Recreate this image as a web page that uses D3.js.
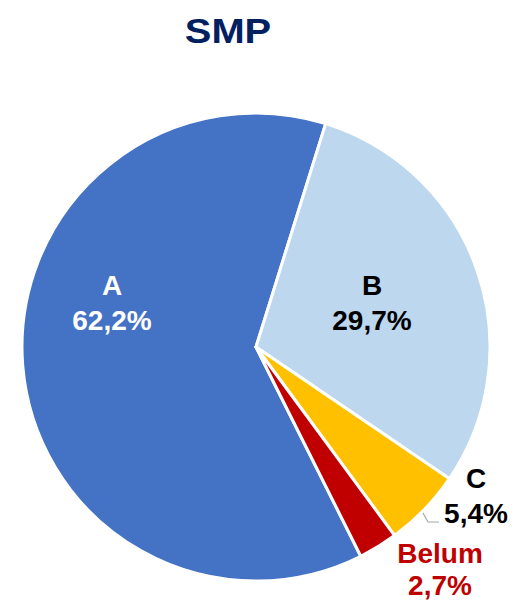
<!DOCTYPE html>
<html>
<head>
<meta charset="utf-8">
<script src="https://cdn.jsdelivr.net/npm/d3@7"></script>
<style>
  body { margin: 0; background: #fff; }
  svg text { font-family: "Liberation Sans", Arial, sans-serif; font-weight: bold; }
</style>
</head>
<body>
<svg id="chart" width="518" height="604"></svg>
<script>
var categories = ['A', 'B', 'C', 'Belum']
var values     = [62.2, 29.7, 5.4, 2.7]
var labels     = ['62,2%', '29,7%', '5,4%', '2,7%']
var colors     = ['#4472C4', '#BDD7EE', '#FFC000', '#C00000']
var textColors = ['#ffffff', '#000000', '#000000', '#C00000']

var svg = d3.select('#chart')
var cx = 256, cy = 347, r = 234

svg.append('text')
    .attr('transform', 'translate(228,43) scale(1.14,1)')
    .attr('text-anchor', 'middle')
    .style('font-size', '35px')
    .style('fill', '#002060')
    .text('SMP')

var startA = 153.4 / 180 * Math.PI
var pie = d3.pie()
    .sort(null)
    .startAngle(startA)
    .endAngle(startA + 2 * Math.PI)
var arcs = pie(values)
var arc = d3.arc().innerRadius(0).outerRadius(r)

var g = svg.append('g').attr('transform', 'translate(' + cx + ',' + cy + ')')

g.selectAll('path')
    .data(arcs)
    .enter().append('path')
    .attr('d', arc)
    .style('fill', (d, i) => colors[i])
    .style('stroke', '#fff')
    .style('stroke-width', 3)
    .style('stroke-linejoin', 'round')

// label baselines (relative to centre): inside for big slices, outside for small
var labelPos = [[-144, -52], [116, -52], [220, 141], [184, 216]]
var lineGap  = [35, 35, 35, 32]

var lab = g.selectAll('g.lab')
    .data(arcs)
    .enter().append('g')
    .attr('class', 'lab')
    .attr('transform', (d, i) => 'translate(' + labelPos[i] + ')')
    .style('fill', (d, i) => textColors[i])
    .style('font-size', '28px')
    .attr('text-anchor', 'middle')

lab.append('text').attr('y', 0).text((d, i) => categories[i])
lab.append('text').attr('y', (d, i) => lineGap[i]).text((d, i) => labels[i])

// leader line for C
g.append('path')
    .attr('d', 'M' + (423 - cx) + ',' + (513 - cy) + 'L' + (428 - cx) + ',' + (522 - cy) + 'H' + (439 - cx))
    .style('fill', 'none')
    .style('stroke', '#a6a6a6')
    .style('stroke-width', 1.2)
</script>
</body>
</html>
